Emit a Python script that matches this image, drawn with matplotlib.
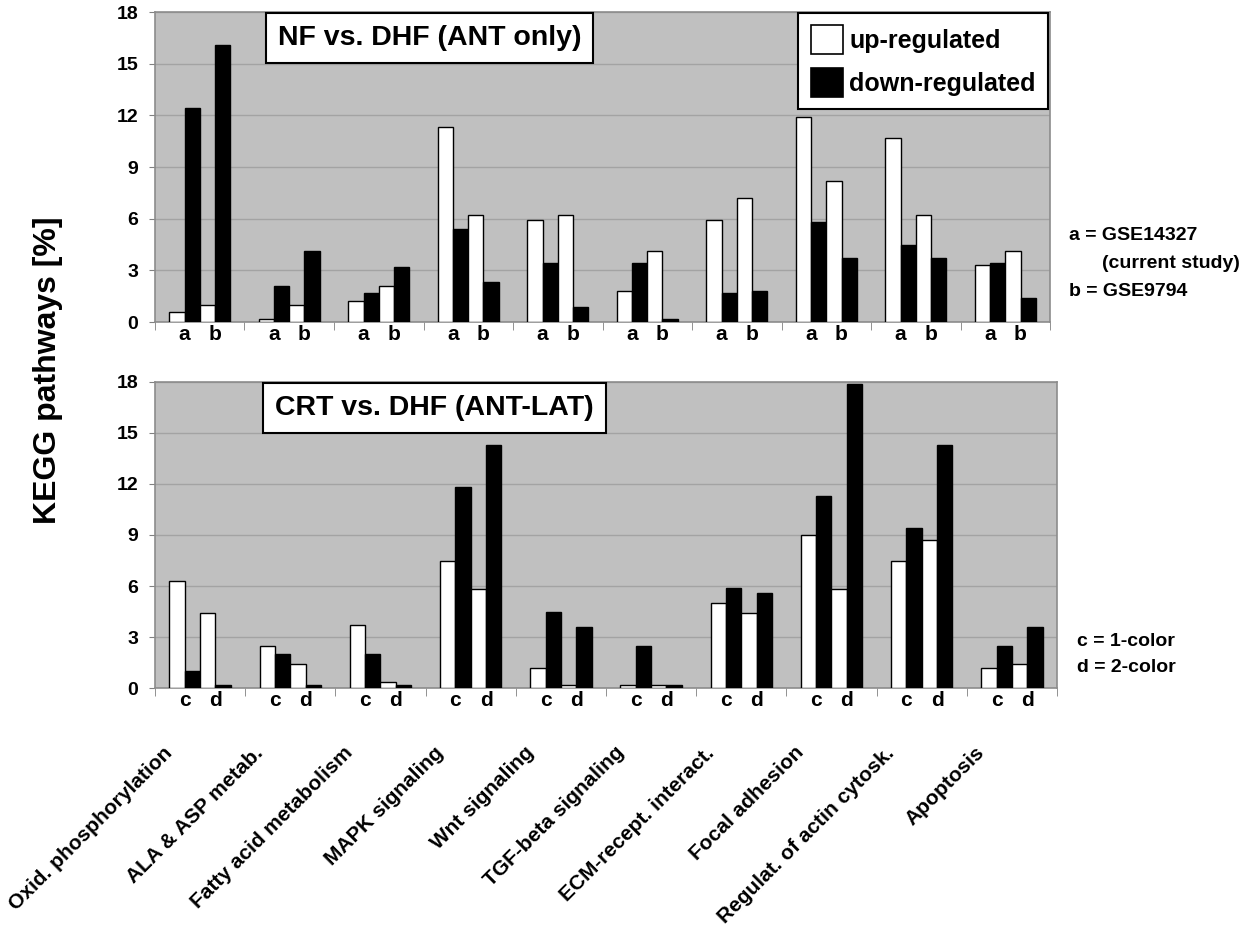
import numpy as np
import matplotlib.pyplot as plt
from matplotlib.patches import Patch

plt.rcParams['font.family'] = ['Liberation Sans', 'DejaVu Sans']
plt.rcParams['font.weight'] = 'bold'

pathways = ['Oxid. phosphorylation', 'ALA & ASP metab.', 'Fatty acid metabolism',
            'MAPK signaling', 'Wnt signaling', 'TGF-beta signaling',
            'ECM-recept. interact.', 'Focal adhesion', 'Regulat. of actin cytosk.',
            'Apoptosis']

# NF vs. DHF (ANT only): a = GSE14327, b = GSE9794
nf_up_a = [0.6, 0.2, 1.2, 11.3, 5.9, 1.8, 5.9, 11.9, 10.7, 3.3]
nf_down_a = [12.4, 2.1, 1.7, 5.4, 3.4, 3.4, 1.7, 5.8, 4.5, 3.4]
nf_up_b = [1.0, 1.0, 2.1, 6.2, 6.2, 4.1, 7.2, 8.2, 6.2, 4.1]
nf_down_b = [16.1, 4.1, 3.2, 2.3, 0.9, 0.2, 1.8, 3.7, 3.7, 1.4]

# CRT vs. DHF (ANT-LAT): c = 1-color, d = 2-color
crt_up_c = [6.3, 2.5, 3.7, 7.5, 1.2, 0.2, 5.0, 9.0, 7.5, 1.2]
crt_down_c = [1.0, 2.0, 2.0, 11.8, 4.5, 2.5, 5.9, 11.3, 9.4, 2.5]
crt_up_d = [4.4, 1.4, 0.35, 5.8, 0.2, 0.2, 4.4, 5.8, 8.7, 1.4]
crt_down_d = [0.2, 0.2, 0.2, 14.3, 3.6, 0.2, 5.6, 17.9, 14.3, 3.6]

yticks = [0, 3, 6, 9, 12, 15, 18]

fig = plt.figure(figsize=(12.58, 9.31), dpi=100)
ax1 = fig.add_axes([0.1232, 0.6541, 0.7115, 0.3330])
ax2 = fig.add_axes([0.1232, 0.2610, 0.7170, 0.3287])

w = 0.17
x = np.arange(len(pathways))


def draw_panel(ax, series, subs, title, tx):
    ax.set_facecolor('#c0c0c0')
    ax.set_axisbelow(True)
    ax.yaxis.grid(True, color='#a3a3a3', linewidth=1.0)
    colors = ['white', 'black', 'white', 'black']
    for k, (vals, c) in enumerate(zip(series, colors)):
        ax.bar(x + 0.16 + w * k, vals, width=w, align='edge', color=c,
               edgecolor='black', linewidth=1.0, zorder=3)
    ax.set_xlim(0, len(pathways))
    ax.set_ylim(0, 18)
    ax.set_yticks(yticks)
    ax.tick_params(axis='y', labelsize=14, length=4, color='#808080', pad=8)
    pos = np.concatenate([x + 0.33, x + 0.67])
    ax.set_xticks(pos)
    ax.set_xticklabels([subs[0]] * len(x) + [subs[1]] * len(x))
    ax.tick_params(axis='x', labelsize=15, length=0, pad=2)
    ax.set_xticks(np.arange(len(pathways) + 1), minor=True)
    ax.tick_params(axis='x', which='minor', length=6, color='#808080')
    for s in ax.spines.values():
        s.set_color('#8c8c8c')
        s.set_linewidth(1.2)
    ax.text(tx, 0.915, title, transform=ax.transAxes, ha='center', va='center',
            fontsize=20.5, fontweight='bold', zorder=5,
            bbox=dict(boxstyle='square,pad=0.42', facecolor='white',
                      edgecolor='black', linewidth=1.5))


draw_panel(ax1, [nf_up_a, nf_down_a, nf_up_b, nf_down_b], ['a', 'b'],
           'NF vs. DHF (ANT only)', 0.307)
draw_panel(ax2, [crt_up_c, crt_down_c, crt_up_d, crt_down_d], ['c', 'd'],
           'CRT vs. DHF (ANT-LAT)', 0.31)

handles = [Patch(facecolor='white', edgecolor='black', linewidth=1.2),
           Patch(facecolor='black', edgecolor='black', linewidth=1.2)]
leg = ax1.legend(handles, ['up-regulated', 'down-regulated'], loc='upper right',
                 bbox_to_anchor=(0.998, 0.998), borderaxespad=0, fancybox=False,
                 framealpha=1, edgecolor='black', fontsize=18,
                 handlelength=1.3, handleheight=1.4, handletextpad=0.25,
                 labelspacing=0.55, borderpad=0.5)
leg.get_frame().set_linewidth(1.5)
leg.set_zorder(6)

# category labels
for i, name in enumerate(pathways):
    ax2.text(i + 0.09, -0.18, name, transform=ax2.get_xaxis_transform(),
             rotation=45, rotation_mode='anchor', ha='right', va='top',
             fontsize=15, fontweight='bold')

fig.text(0.038, 0.6026, 'KEGG pathways [%]', rotation=90, ha='center', va='center',
         fontsize=23, fontweight='bold')

fig.text(0.850, 1 - 235 / 931, 'a = GSE14327', fontsize=14, va='center')
fig.text(0.876, 1 - 263 / 931, '(current study)', fontsize=14, va='center')
fig.text(0.850, 1 - 291 / 931, 'b = GSE9794', fontsize=14, va='center')
fig.text(0.856, 1 - 641 / 931, 'c = 1-color', fontsize=14, va='center')
fig.text(0.856, 1 - 668 / 931, 'd = 2-color', fontsize=14, va='center')

fig.savefig('out.png', dpi=100)
